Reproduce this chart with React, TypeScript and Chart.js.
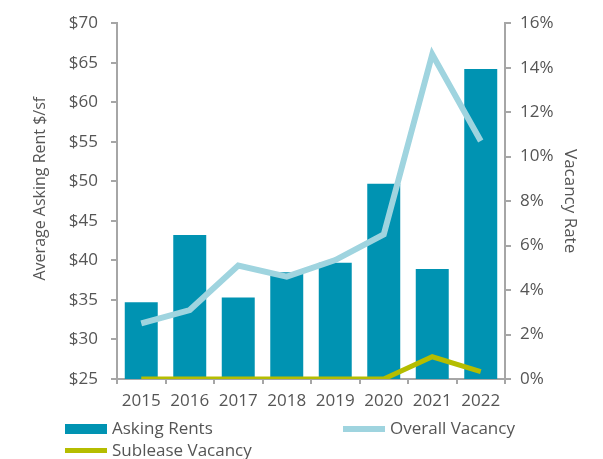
import React, { useEffect, useRef } from "react";
import { Chart, registerables } from "chart.js";

Chart.register(...registerables);

const years = ["2015", "2016", "2017", "2018", "2019", "2020", "2021", "2022"];
const askingRents = [34.7, 43.2, 35.3, 38.5, 39.7, 49.7, 38.9, 64.2];
const overallVacancy = [2.5, 3.1, 5.1, 4.6, 5.35, 6.5, 14.6, 10.7];
const subleaseVacancy = [0, 0, 0, 0, 0, 0, 1.0, 0.33];

const BAR = "#0093b2";
const LIGHT = "#9fd4df";
const OLIVE = "#b5bd00";
const TEXT = "#555555";
const AXIS = "#a6a6a6";
const FONT = "'Open Sans', sans-serif";

export default function App() {
  const ref = useRef<HTMLCanvasElement | null>(null);

  useEffect(() => {
    document.body.style.margin = "0";
    const canvas = ref.current;
    if (!canvas) return;
    const chart = new Chart(canvas, {
      type: "bar",
      data: {
        labels: years,
        datasets: [
          {
            type: "line",
            label: "Sublease Vacancy",
            data: subleaseVacancy,
            yAxisID: "y1",
            borderColor: OLIVE,
            backgroundColor: OLIVE,
            borderWidth: 5,
            pointRadius: 0,
            tension: 0,
            order: 1,
          },
          {
            type: "line",
            label: "Overall Vacancy",
            data: overallVacancy,
            yAxisID: "y1",
            borderColor: LIGHT,
            backgroundColor: LIGHT,
            borderWidth: 6,
            pointRadius: 0,
            tension: 0,
            order: 2,
          },
          {
            type: "bar",
            label: "Asking Rents",
            data: askingRents,
            yAxisID: "y",
            backgroundColor: BAR,
            categoryPercentage: 1,
            barPercentage: 0.68,
            order: 3,
          },
        ],
      },
      options: {
        animation: false,
        responsive: false,
        layout: { padding: { top: 22, bottom: 50, left: 0, right: 0 } },
        plugins: { legend: { display: false }, tooltip: { enabled: false } },
        scales: {
          x: {
            grid: {
              offset: true,
              drawOnChartArea: false,
              drawTicks: true,
              tickLength: 5,
              color: AXIS,
              lineWidth: 2,
            },
            border: { color: AXIS, width: 2 },
            ticks: { color: TEXT, font: { family: FONT, size: 17 }, padding: 7, maxRotation: 0 },
            afterFit: (s: any) => {
              s.height = 30;
            },
          },
          y: {
            position: "left",
            min: 25,
            max: 70,
            ticks: {
              stepSize: 5,
              color: TEXT,
              font: { family: FONT, size: 17 },
              padding: 13,
              callback: (v: any) => "$" + v,
            },
            grid: { drawOnChartArea: false, tickLength: 6, color: AXIS, lineWidth: 2 },
            border: { color: AXIS, width: 2 },
            title: {
              display: true,
              text: "      Average Asking Rent $/sf",
              color: TEXT,
              font: { family: FONT, size: 16 },
              padding: { top: 31, bottom: 0 },
            },
            afterFit: (s: any) => {
              s.width = 117;
            },
          },
          y1: {
            position: "right",
            min: 0,
            max: 16,
            ticks: {
              stepSize: 2,
              color: TEXT,
              font: { family: FONT, size: 17 },
              padding: 9,
              callback: (v: any) => v + "%",
            },
            grid: { drawOnChartArea: false, tickLength: 6, color: AXIS, lineWidth: 2 },
            border: { color: AXIS, width: 2 },
            title: {
              display: true,
              text: "Vacancy Rate",
              color: TEXT,
              font: { family: FONT, size: 17 },
              padding: { top: 23, bottom: 0 },
            },
            afterFit: (s: any) => {
              s.width = 98;
            },
          },
        },
      },
    });
    return () => chart.destroy();
  }, []);

  const legendText: React.CSSProperties = {
    position: "absolute",
    fontFamily: FONT,
    fontSize: 17,
    color: TEXT,
    lineHeight: "20px",
    whiteSpace: "nowrap",
  };

  return (
    <div style={{ position: "relative", width: 603, height: 459 }}>
      <canvas ref={ref} width={603} height={459} style={{ position: "absolute", left: 0, top: 0 }} />
      <div style={{ position: "absolute", left: 65, top: 424, width: 42, height: 10, background: BAR }} />
      <div style={{ ...legendText, left: 112, top: 418 }}>Asking Rents</div>
      <div style={{ position: "absolute", left: 343, top: 426, width: 42, height: 6, background: LIGHT }} />
      <div style={{ ...legendText, left: 390, top: 418 }}>Overall Vacancy</div>
      <div style={{ position: "absolute", left: 65, top: 448, width: 42, height: 5, background: OLIVE }} />
      <div style={{ ...legendText, left: 112, top: 440 }}>Sublease Vacancy</div>
    </div>
  );
}
